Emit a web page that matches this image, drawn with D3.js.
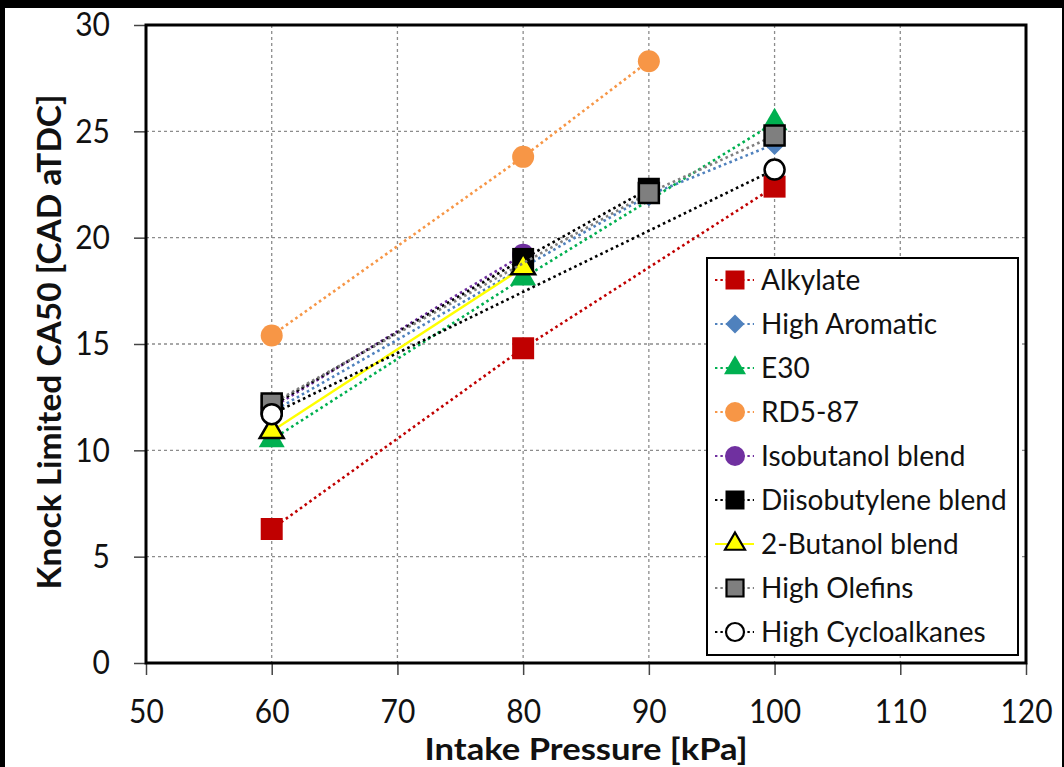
<!DOCTYPE html>
<html>
<head>
<meta charset="utf-8">
<script src="https://cdn.jsdelivr.net/npm/d3@7"></script>
<style>
  html, body { margin: 0; padding: 0; background: #000; }
  svg { display: block; }
</style>
</head>
<body>
<svg id="chart" width="1064" height="767"></svg>
<script>
// Knock-limited CA50 versus intake pressure, per fuel
const xTicks = [50, 60, 70, 80, 90, 100, 110, 120];
const yTicks = [0, 5, 10, 15, 20, 25, 30];

const alkylate         = [[60, 6.3], [80, 14.8], [100, 22.4]];
const highAromatic     = [[60, 11.8], [90, 22.0], [100, 24.4]];
const e30              = [[60, 10.5], [80, 18.1], [100, 25.4]];
const rd587            = [[60, 15.4], [80, 23.8], [90, 28.3]];
const isobutanolBlend  = [[60, 12.0], [80, 19.2]];
const diisobutylene    = [[60, 12.1], [80, 19.0], [90, 22.3]];
const butanol2Blend    = [[60, 10.9], [80, 18.6]];
const highOlefins      = [[60, 12.2], [90, 22.1], [100, 24.8]];
const highCycloalkanes = [[60, 11.7], [100, 23.2]];

const seriesNames = ["Alkylate", "High Aromatic", "E30", "RD5-87", "Isobutanol blend",
  "Diisobutylene blend", "2-Butanol blend", "High Olefins", "High Cycloalkanes"];

const series = [
  { name: seriesNames[0], data: alkylate,         line: "#C00000", fill: "#C00000", edge: "none",    shape: "square",   dash: true },
  { name: seriesNames[1], data: highAromatic,     line: "#4F81BD", fill: "#4F81BD", edge: "none",    shape: "diamond",  dash: true },
  { name: seriesNames[2], data: e30,              line: "#00B050", fill: "#00B050", edge: "none",    shape: "triangle", dash: true },
  { name: seriesNames[3], data: rd587,            line: "#F79646", fill: "#F79646", edge: "none",    shape: "circle",   dash: true },
  { name: seriesNames[4], data: isobutanolBlend,  line: "#7030A0", fill: "#7030A0", edge: "none",    shape: "circle",   dash: true },
  { name: seriesNames[5], data: diisobutylene,    line: "#000000", fill: "#000000", edge: "none",    shape: "square",   dash: true },
  { name: seriesNames[6], data: butanol2Blend,    line: "#FFFF00", fill: "#FFFF00", edge: "#000000", shape: "triangle", dash: false },
  { name: seriesNames[7], data: highOlefins,      line: "#7F7F7F", fill: "#7F7F7F", edge: "#000000", shape: "square",   dash: true },
  { name: seriesNames[8], data: highCycloalkanes, line: "#000000", fill: "#FFFFFF", edge: "#000000", shape: "circle",   dash: true }
];

const svg = d3.select("#chart");
const W = 1064, H = 767;

// page frame
svg.append("rect").attr("x", 5).attr("y", 8).attr("width", W - 7).attr("height", H - 8).attr("fill", "#fff");

const plot = { left: 146, top: 25, right: 1026, bottom: 663 };
const x = d3.scaleLinear().domain([50, 120]).range([plot.left, plot.right]);
const y = d3.scaleLinear().domain([0, 30]).range([plot.bottom, plot.top]);

const font = "Lato, 'Open Sans', sans-serif";

// dashed gridlines
const grid = svg.append("g");
grid.selectAll("line.v").data(xTicks.filter(d => d > 50 && d < 120)).join("line")
  .attr("x1", d => x(d)).attr("x2", d => x(d))
  .attr("y1", plot.top).attr("y2", plot.bottom)
  .attr("stroke", "#8c8c8c").attr("stroke-width", 1.3).attr("stroke-dasharray", "3,3");
grid.selectAll("line.h").data(yTicks.filter(d => d > 0 && d < 30)).join("line")
  .attr("x1", plot.left).attr("x2", plot.right)
  .attr("y1", d => y(d)).attr("y2", d => y(d))
  .attr("stroke", "#8c8c8c").attr("stroke-width", 1.3).attr("stroke-dasharray", "3,3");

// axes
const yAxis = svg.append("g").attr("transform", `translate(${plot.left},0)`)
  .call(d3.axisLeft(y).tickValues(yTicks).tickSize(12).tickPadding(24).tickFormat(d3.format("d")));
const xAxis = svg.append("g").attr("transform", `translate(0,${plot.bottom})`)
  .call(d3.axisBottom(x).tickValues(xTicks).tickSize(12).tickPadding(24).tickFormat(d3.format("d")));
[xAxis, yAxis].forEach(a => {
  a.select(".domain").remove();
  a.selectAll(".tick line").attr("stroke", "#444").attr("stroke-width", 1.5);
  a.selectAll(".tick text").attr("font-family", font).attr("font-size", 30).attr("fill", "#111");
});
// slightly tall tick glyphs
yAxis.selectAll(".tick text").attr("transform", "scale(1,1.12)");
xAxis.selectAll(".tick text").each(function () {
  const t = d3.select(this);
  const yy = +t.attr("y");
  t.attr("y", yy / 1.12).attr("transform", "scale(1,1.12)");
});

// plot frame
svg.append("rect").attr("x", plot.left).attr("y", plot.top)
  .attr("width", plot.right - plot.left).attr("height", plot.bottom - plot.top)
  .attr("fill", "none").attr("stroke", "#000").attr("stroke-width", 3);

// axis titles
svg.append("text").attr("x", (plot.left + plot.right) / 2).attr("y", 760)
  .attr("text-anchor", "middle").attr("font-family", font).attr("font-weight", "bold")
  .attr("font-size", 30).attr("fill", "#111")
  .attr("textLength", 323).attr("lengthAdjust", "spacingAndGlyphs")
  .text("Intake Pressure [kPa]");
svg.append("text").attr("transform", `translate(61,342) rotate(-90)`)
  .attr("text-anchor", "middle").attr("font-family", font).attr("font-weight", "bold")
  .attr("font-size", 32).attr("fill", "#111")
  .attr("textLength", 495).attr("lengthAdjust", "spacingAndGlyphs")
  .text("Knock Limited CA50 [CAD aTDC]");

// marker paths
function markerPath(shape, s) {
  if (shape === "square") return d3.symbol(d3.symbolSquare, s * s)();
  if (shape === "circle") return d3.symbol(d3.symbolCircle, Math.PI * s * s / 4)();
  if (shape === "triangle") return d3.symbol(d3.symbolTriangle, s * s * Math.sqrt(3) / 4)();
  if (shape === "diamond") return d3.symbol(d3.symbolSquare, s * s / 2)();
  return "";
}
function markerTransform(shape, cx, cy) {
  return shape === "diamond" ? `translate(${cx},${cy}) rotate(45)` : `translate(${cx},${cy})`;
}
const markerSize = { square: 22, circle: 22, triangle: 26, diamond: 22 };

const lineGen = d3.line().x(d => x(d[0])).y(d => y(d[1]));

// series: line and markers
series.forEach(s => {
  const g = svg.append("g");
  g.append("path").attr("d", lineGen(s.data)).attr("fill", "none")
    .attr("stroke", s.line).attr("stroke-width", s.dash ? 2.6 : 2.4)
    .attr("stroke-dasharray", s.dash ? "2.6,3.2" : null);
  g.selectAll("path.m").data(s.data).join("path")
    .attr("d", markerPath(s.shape, markerSize[s.shape] - (s.edge !== "none" ? 2 : 0)))
    .attr("transform", d => markerTransform(s.shape, x(d[0]), y(d[1])))
    .attr("fill", s.fill).attr("stroke", s.edge).attr("stroke-width", 2.5);
});

// legend
const lg = svg.append("g");
lg.append("rect").attr("x", 707).attr("y", 258).attr("width", 311).attr("height", 397)
  .attr("fill", "#fff").attr("stroke", "#000").attr("stroke-width", 2);
const rowY = i => 280 + i * 44;
const legendSize = { square: 19, circle: 20, triangle: 22, diamond: 19 };
series.forEach((s, i) => {
  const cy = rowY(i);
  lg.append("line").attr("x1", 715).attr("x2", 754).attr("y1", cy).attr("y2", cy)
    .attr("stroke", s.line).attr("stroke-width", 2.2)
    .attr("stroke-dasharray", s.dash ? "2.4,3" : null);
  lg.append("path").attr("d", markerPath(s.shape, legendSize[s.shape] - (s.edge !== "none" ? 2 : 0)))
    .attr("transform", markerTransform(s.shape, 735, cy))
    .attr("fill", s.fill).attr("stroke", s.edge).attr("stroke-width", 2.2);
  lg.append("text").attr("x", 761).attr("y", cy).attr("dy", "0.36em")
    .attr("font-family", font).attr("font-size", 28).attr("fill", "#111").text(s.name);
});
</script>
</body>
</html>
